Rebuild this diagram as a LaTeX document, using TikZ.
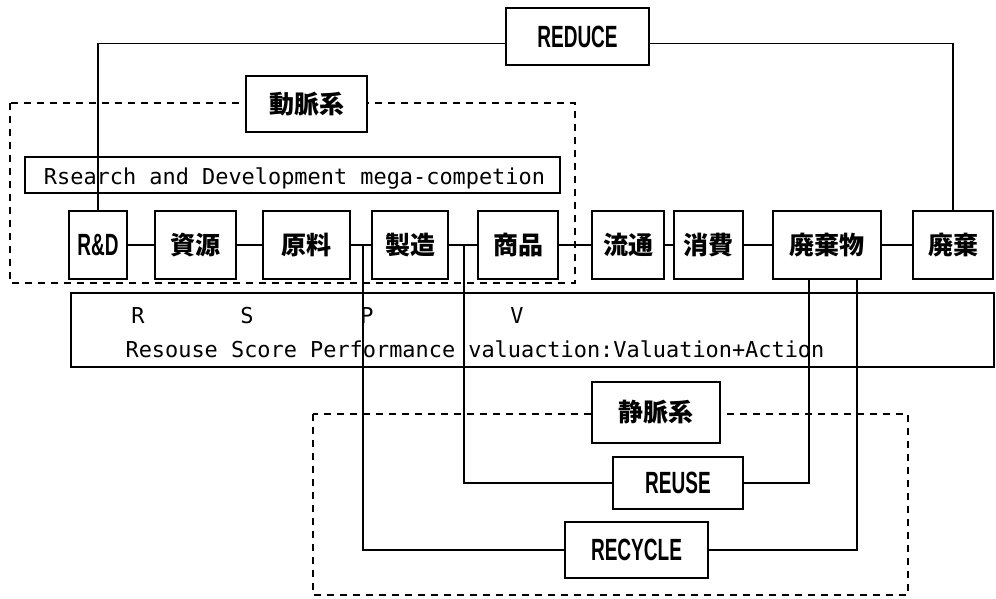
\documentclass[tikz,border=0pt]{standalone}
\usepackage{fontspec}
\usepackage{graphicx}
\newfontfamily\cjk{Noto Sans CJK JP}
\newfontfamily\monof{DejaVu Sans Mono}
\newfontfamily\condf{Liberation Sans}
\newcommand\condtext[1]{{\condf\bfseries\fontsize{30.7}{31}\selectfont\scalebox{0.62}[1]{#1}}}
\tikzset{
  box/.style={draw, line width=2.1pt, inner sep=0pt, minimum height=68pt},
  cj/.style={font=\cjk\bfseries\fontsize{25}{25}\selectfont},
  conn/.style={line width=1.8pt},
  thinconn/.style={line width=1.3pt},
  dbox/.style={line width=1.8pt, dash pattern=on 7pt off 6pt},
  mono/.style={font=\monof\fontsize{21.9}{22}\selectfont, inner sep=0pt, anchor=base},
  label/.style={draw, line width=2.1pt, fill=white, inner sep=0pt},
}
\begin{document}
\begin{tikzpicture}[x=1pt,y=-1pt]
\useasboundingbox (0,0) rectangle (996,599);
% dashed system frames
\draw[dbox] (10,103) rectangle (575,283);
\draw[dbox] (313,414) rectangle (908,595);
% RSPV box
\node[draw, line width=1.6pt, minimum width=923pt, minimum height=74pt, inner sep=0pt] (rspv) at (532.5,330) {};
\node[mono] (lr) at (138,323) {R};
\node[mono] (ls) at (247,323) {S};
\node[mono] (lp) at (367,323) {P};
\node[mono] (lv) at (517,323) {V};
\node[mono] (rspvtext) at (475,357) {Resouse Score Performance valuaction:Valuation+Action};
% research box
\node[draw, line width=1.4pt, minimum width=535pt, minimum height=36pt, inner sep=0pt] (rsbox) at (292.5,175) {};
\node[mono] (rstext) at (294.5,185) {Rsearch and Development mega-competion};
% main row
\node[box, minimum width=58pt] (rd) at (98,245) {\condtext{R\&D}};
\node[box, cj, minimum width=81pt] (shigen) at (195.5,245) {資源};
\node[box, cj, minimum width=87pt] (genryo) at (306.5,245) {原料};
\node[box, cj, minimum width=76pt] (seizo) at (410,245) {製造};
\node[box, cj, minimum width=80pt] (shohin) at (518,245) {商品};
\node[box, cj, minimum width=72pt] (ryutsu) at (628,245) {流通};
\node[box, cj, minimum width=69pt] (shohi) at (708.5,245) {消費};
\node[box, cj, minimum width=108pt] (haikibutsu) at (827,245) {廃棄物};
\node[box, cj, minimum width=80pt] (haiki) at (953,245) {廃棄};
% R boxes
\node[box, minimum width=143pt, minimum height=57pt] (reduce) at (577.5,36.5) {\condtext{REDUCE}};
\node[box, minimum width=130pt, minimum height=52pt] (reuse) at (678,483) {\condtext{REUSE}};
\node[box, minimum width=143pt, minimum height=56pt] (recycle) at (636.5,550) {\condtext{RECYCLE}};
% connectors in row
\draw[conn] (rd) -- (shigen);
\draw[conn] (shigen) -- (genryo);
\draw[conn] (genryo) -- (seizo);
\draw[conn] (seizo) -- (shohin);
\draw[conn] (shohin) -- (ryutsu);
\draw[conn] (ryutsu) -- (shohi);
\draw[conn] (shohi) -- (haikibutsu);
\draw[conn] (haikibutsu) -- (haiki);
% reduce loop
\draw[conn] (rd.north) |- ([yshift=-7pt]reduce.west);
\draw[conn] (haiki.north) |- ([yshift=-7pt]reduce.east);
% reuse / recycle loops
\coordinate (j1) at (363,245);
\coordinate (j2) at (464,245);
\draw[thinconn] (j1) |- (recycle.west);
\draw[thinconn] (j2) |- (reuse.west);
\draw[conn] ([xshift=-18pt]haikibutsu.south) |- (reuse.east);
\draw[conn] ([xshift=30pt]haikibutsu.south) |- (recycle.east);
% frame labels
\node[label, cj, minimum width=121pt, minimum height=56pt] (domyaku) at (306.5,104) {動脈系};
\node[label, cj, minimum width=128pt, minimum height=61pt] (jomyaku) at (656,412.5) {静脈系};
\end{tikzpicture}
\end{document}
